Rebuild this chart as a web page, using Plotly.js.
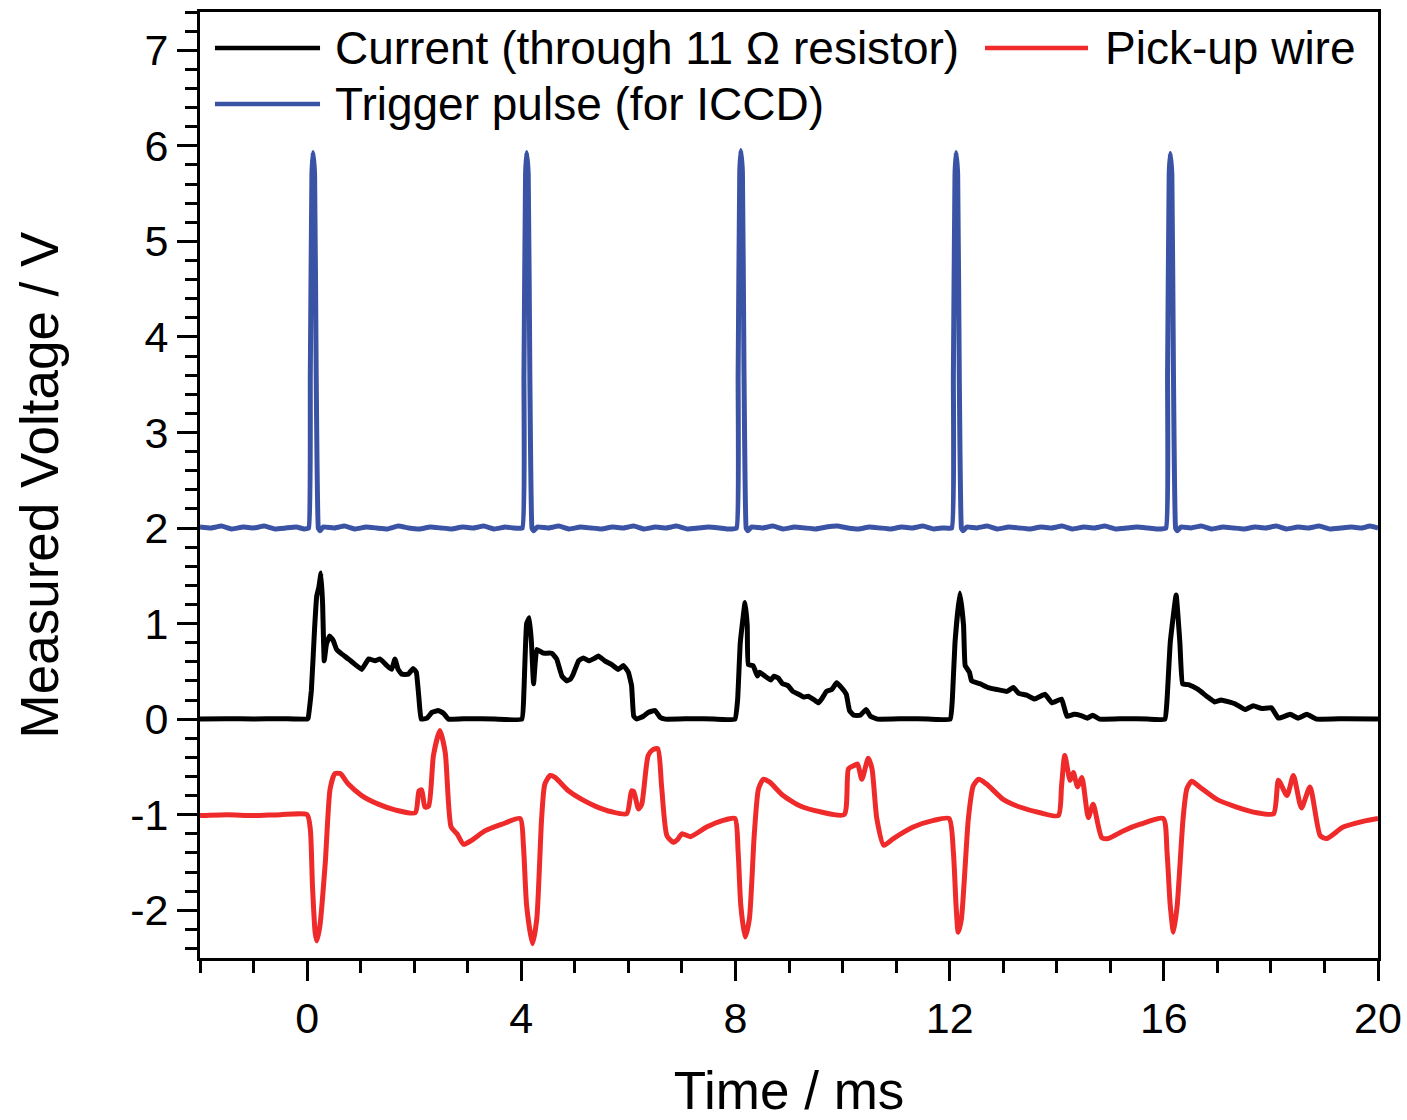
<!DOCTYPE html>
<html>
<head>
<meta charset="utf-8">
<script src="https://cdn.plot.ly/plotly-3.0.1.min.js"></script>
<style>
  html, body { margin: 0; padding: 0; background: #ffffff; }
  #chart { width: 1407px; height: 1120px; }
</style>
</head>
<body>
<div id="chart"></div>
<script>
// ---- Data (time in ms, voltage in V) ----
const seriesNames = ["Current (through 11 Ω resistor)", "Pick-up wire", "Trigger pulse (for ICCD)"];

const currentT = [-2.0,-1.5,-1.0,-0.5,0.0,0.02,0.08,0.14,0.18,0.22,0.26,0.29,0.32,0.36,0.42,0.49,0.55,0.65,0.77,0.90,1.02,1.15,1.27,1.36,1.49,1.58,1.64,1.70,1.77,1.89,1.98,2.04,2.09,2.13,2.24,2.33,2.45,2.55,2.64,3.0,3.5,
  4.01,4.05,4.10,4.15,4.19,4.23,4.29,4.41,4.57,4.66,4.76,4.85,4.92,4.97,5.07,5.16,5.26,5.38,5.44,5.56,5.69,5.81,5.91,6.00,6.06,6.10,6.16,6.28,6.37,6.50,6.59,6.69,7.2,7.6,
  7.99,8.04,8.09,8.18,8.22,8.24,8.33,8.41,8.45,8.55,8.66,8.72,8.80,8.88,8.98,9.07,9.18,9.27,9.36,9.45,9.55,9.61,9.70,9.80,9.89,9.98,10.07,10.13,10.21,10.33,10.44,10.52,10.65,11.2,11.6,
  12.01,12.05,12.10,12.19,12.26,12.29,12.37,12.41,12.57,12.72,12.88,13.07,13.19,13.29,13.44,13.59,13.78,13.91,14.09,14.19,14.32,14.44,14.57,14.67,14.80,15.3,15.7,
  16.02,16.06,16.12,16.23,16.30,16.35,16.46,16.64,16.80,16.95,17.07,17.33,17.52,17.67,17.83,18.01,18.14,18.36,18.51,18.67,18.85,19.4,20.0];
const currentV = [0,0.005,0,0.005,0,0.01,0.30,0.95,1.29,1.38,1.53,1.20,0.61,0.78,0.87,0.82,0.73,0.68,0.63,0.57,0.52,0.63,0.61,0.63,0.56,0.52,0.63,0.52,0.47,0.47,0.53,0.49,0.21,0.0,0.01,0.07,0.09,0.06,0.0,0.005,0,
  0,0.30,1.00,1.06,0.80,0.37,0.73,0.69,0.69,0.63,0.45,0.40,0.42,0.47,0.61,0.64,0.61,0.64,0.66,0.61,0.57,0.52,0.56,0.49,0.35,0.03,0,0.03,0.07,0.09,0.02,0,0.005,0,
  0,0.20,0.80,1.22,0.98,0.57,0.56,0.45,0.49,0.45,0.41,0.45,0.43,0.37,0.35,0.29,0.26,0.23,0.24,0.21,0.17,0.21,0.29,0.31,0.38,0.33,0.26,0.09,0.04,0.04,0.10,0.03,0,0.005,0,
  0,0.20,0.80,1.32,0.98,0.56,0.49,0.40,0.37,0.33,0.31,0.29,0.33,0.27,0.25,0.21,0.26,0.17,0.21,0.03,0.05,0.04,0.01,0.04,0,0.005,0,
  0,0.20,0.80,1.30,0.80,0.37,0.36,0.31,0.24,0.18,0.20,0.16,0.10,0.14,0.11,0.12,0.01,0.05,0.01,0.05,0,0.005,0];

const pickupT = [-2.0,-1.5,-1.0,-0.5,0.0,0.06,0.10,0.15,0.18,0.24,0.34,0.43,0.52,0.62,0.77,1.02,1.33,1.64,2.02,2.09,2.14,2.20,2.27,2.36,2.48,2.58,2.69,2.80,2.92,3.07,3.32,3.64,
  3.98,4.04,4.10,4.21,4.29,4.38,4.44,4.54,4.63,4.88,5.13,5.38,5.69,5.97,6.06,6.10,6.19,6.25,6.37,6.46,6.55,6.62,6.72,6.84,6.92,7.00,7.16,7.46,7.77,
  7.99,8.05,8.10,8.18,8.26,8.35,8.43,8.52,8.64,8.89,9.21,9.58,10.03,10.11,10.20,10.28,10.36,10.48,10.55,10.64,10.77,10.95,11.32,11.70,
  11.99,12.07,12.12,12.16,12.22,12.35,12.44,12.54,12.69,13.00,13.31,13.69,14.03,14.09,14.15,14.25,14.31,14.39,14.47,14.59,14.68,14.84,14.96,15.24,15.56,
  15.99,16.06,16.12,16.18,16.25,16.36,16.43,16.52,16.67,16.99,17.36,17.74,18.05,18.14,18.30,18.42,18.57,18.73,18.92,19.04,19.35,19.72,20.0];
const pickupV = [-1.01,-1.00,-1.01,-1.00,-1.00,-1.15,-1.74,-2.23,-2.32,-2.16,-1.50,-0.73,-0.57,-0.57,-0.68,-0.80,-0.89,-0.95,-0.98,-0.75,-0.74,-0.92,-0.91,-0.38,-0.12,-0.35,-1.13,-1.20,-1.31,-1.27,-1.17,-1.10,
  -1.04,-1.32,-1.95,-2.35,-2.09,-1.04,-0.68,-0.59,-0.61,-0.75,-0.84,-0.91,-0.97,-0.99,-0.75,-0.76,-0.94,-0.89,-0.38,-0.32,-0.31,-0.70,-1.22,-1.29,-1.26,-1.20,-1.23,-1.13,-1.06,
  -1.04,-1.39,-1.95,-2.28,-2.09,-1.22,-0.73,-0.63,-0.66,-0.80,-0.91,-0.97,-1.00,-0.52,-0.49,-0.47,-0.63,-0.41,-0.52,-1.04,-1.32,-1.25,-1.13,-1.06,
  -1.04,-1.39,-1.95,-2.23,-2.09,-1.04,-0.70,-0.63,-0.68,-0.84,-0.92,-0.98,-1.01,-0.70,-0.38,-0.64,-0.56,-0.71,-0.61,-1.03,-0.89,-1.24,-1.25,-1.17,-1.10,
  -1.04,-1.39,-1.95,-2.23,-1.95,-1.04,-0.73,-0.65,-0.71,-0.84,-0.92,-0.98,-0.99,-0.64,-0.80,-0.59,-0.93,-0.71,-1.22,-1.25,-1.13,-1.07,-1.04];

const triggerT = [-2.0,-1.8,-1.6,-1.4,-1.2,-1.0,-0.8,-0.6,-0.4,-0.2,-0.05,0.03,0.06,0.09,0.11,0.14,0.17,0.21,0.24,0.30,0.5,0.7,0.9,1.1,1.3,1.5,1.7,1.9,2.1,2.3,2.5,2.7,2.9,3.1,3.3,3.5,3.7,3.85,
  4.02,4.05,4.08,4.10,4.13,4.16,4.20,4.23,4.30,4.5,4.7,4.9,5.1,5.3,5.5,5.7,5.9,6.1,6.3,6.5,6.7,6.9,7.1,7.3,7.5,7.7,7.85,
  8.02,8.05,8.08,8.10,8.13,8.16,8.20,8.23,8.30,8.5,8.7,8.9,9.1,9.3,9.5,9.7,9.9,10.1,10.3,10.5,10.7,10.9,11.1,11.3,11.5,11.7,11.87,
  12.04,12.07,12.10,12.12,12.15,12.18,12.22,12.25,12.32,12.5,12.7,12.9,13.1,13.3,13.5,13.7,13.9,14.1,14.3,14.5,14.7,14.9,15.1,15.3,15.5,15.7,15.87,
  16.04,16.07,16.10,16.12,16.15,16.18,16.22,16.25,16.32,16.5,16.7,16.9,17.1,17.3,17.5,17.7,17.9,18.1,18.3,18.5,18.7,18.9,19.1,19.3,19.5,19.7,19.85,20.0];
const triggerV = [2.01,2.00,2.02,1.99,2.01,2.00,2.02,1.99,2.00,2.01,1.99,2.00,3.60,5.70,5.93,5.70,3.60,2.00,1.97,2.01,2.00,2.02,1.99,2.01,2.00,1.99,2.02,2.00,1.99,2.01,2.00,1.99,2.01,2.00,2.02,1.99,2.01,2.00,
  2.00,3.60,5.70,5.93,5.70,3.60,2.00,1.97,2.01,2.00,2.02,1.99,2.01,2.00,1.99,2.01,2.00,2.02,1.99,2.01,2.00,2.02,1.99,2.00,2.01,2.00,1.99,
  2.00,3.60,5.72,5.95,5.72,3.60,2.00,1.97,2.01,2.00,2.02,1.99,2.01,2.00,1.99,2.01,2.02,2.00,1.99,2.01,2.00,1.99,2.01,2.00,2.02,1.99,2.00,
  2.00,3.60,5.70,5.93,5.70,3.60,2.00,1.97,2.01,2.00,2.02,1.99,2.01,2.00,1.99,2.01,2.00,2.02,1.99,2.01,2.00,2.02,1.99,2.00,2.01,2.00,1.99,
  2.00,3.60,5.70,5.92,5.70,3.60,2.00,1.97,2.01,2.00,2.02,1.99,2.01,2.00,1.99,2.01,2.00,2.02,1.99,2.01,2.00,2.02,1.99,2.00,2.01,2.00,2.02,2.00];

const xTickVals = [0, 4, 8, 12, 16, 20];
const yTickVals = [-2, -1, 0, 1, 2, 3, 4, 5, 6, 7];
const yTickText = ["-2", "-1", "0", "1", "2", "3", "4", "5", "6", "7"];

// ---- Styling ----
const FONT = "Arial, 'Liberation Sans', 'Helvetica Neue', sans-serif";
const colCurrent = "#000000";
const colPickup = "#EE2A2A";
const colTrigger = "#3A53A4";
const LW = 5;

const traces = [
  { x: triggerT, y: triggerV, type: "scatter", mode: "lines", name: seriesNames[2],
    line: { color: colTrigger, width: LW, shape: "spline", smoothing: 0.3 }, showlegend: false },
  { x: currentT, y: currentV, type: "scatter", mode: "lines", name: seriesNames[0],
    line: { color: colCurrent, width: LW, shape: "spline", smoothing: 0.3 }, showlegend: false },
  { x: pickupT, y: pickupV, type: "scatter", mode: "lines", name: seriesNames[1],
    line: { color: colPickup, width: LW, shape: "spline", smoothing: 0.6 }, showlegend: false }
];

// manual legend (paper coordinates)
const legendItems = [
  { name: seriesNames[0], color: colCurrent, x0: 0.0127, x1: 0.1019, tx: 0.1129, y: 0.962 },
  { name: seriesNames[1], color: colPickup,  x0: 0.6664, x1: 0.7538, tx: 0.7666, y: 0.962 },
  { name: seriesNames[2], color: colTrigger, x0: 0.0127, x1: 0.1019, tx: 0.1129, y: 0.9027 }
];
const shapes = legendItems.map(it => ({
  type: "line", xref: "paper", yref: "paper", x0: it.x0, x1: it.x1, y0: it.y, y1: it.y,
  line: { color: it.color, width: 4.5 }
}));
const annotations = legendItems.map(it => ({
  xref: "paper", yref: "paper", x: it.tx, y: it.y, xanchor: "left", yanchor: "middle",
  text: it.name, showarrow: false, font: { family: FONT, size: 46, color: "#000" }
}));

const layout = {
  width: 1407, height: 1120,
  margin: { l: 200, r: 29, t: 12, b: 162 },
  paper_bgcolor: "#ffffff", plot_bgcolor: "#ffffff",
  font: { family: FONT, color: "#000" },
  xaxis: {
    range: [-2, 20], tickvals: xTickVals, ticktext: xTickVals.map(String),
    ticks: "outside", ticklen: 20, tickwidth: 3, tickcolor: "#000",
    minor: { dtick: 1, tick0: 0, ticks: "outside", ticklen: 12, tickwidth: 3, tickcolor: "#000", showgrid: false },
    showline: true, linewidth: 3, linecolor: "#000", mirror: true,
    showgrid: false, zeroline: false,
    tickfont: { family: FONT, size: 43, color: "#000" },
    title: { text: "Time / ms", font: { family: FONT, size: 53, color: "#000" }, standoff: 38 }
  },
  yaxis: {
    range: [-2.5, 7.4], tickvals: yTickVals, ticktext: yTickText,
    ticks: "outside", ticklen: 20, tickwidth: 3, tickcolor: "#000",
    minor: { dtick: 0.2, tick0: 0, ticks: "outside", ticklen: 12, tickwidth: 3, tickcolor: "#000", showgrid: false },
    showline: true, linewidth: 3, linecolor: "#000", mirror: true,
    showgrid: false, zeroline: false,
    tickfont: { family: FONT, size: 43, color: "#000" },
    title: { text: "Measured Voltage / V", font: { family: FONT, size: 53, color: "#000" }, standoff: 55 }
  },
  shapes: shapes,
  annotations: annotations,
  showlegend: false
};

Plotly.newPlot("chart", traces, layout, { staticPlot: true, displayModeBar: false });
</script>
</body>
</html>
